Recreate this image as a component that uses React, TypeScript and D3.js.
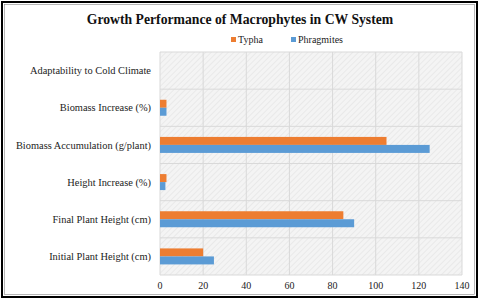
import React from 'react';
import * as d3 from 'd3';

// chart data, bottom category first as in the picture
const categories = [
  'Initial Plant Height (cm)',
  'Final Plant Height (cm)',
  'Height Increase (%)',
  'Biomass Accumulation (g/plant)',
  'Biomass Increase (%)',
  'Adaptability to Cold Climate',
];
const typha = [20, 85, 3, 105, 3, 0];
const phragmites = [25, 90, 2.5, 125, 3, 0];
const xTicks = [0, 20, 40, 60, 80, 100, 120, 140];
const seriesNames = ['Typha', 'Phragmites'];
const seriesColors = ['#ed7d31', '#5b9bd5'];

const width = 480;
const height = 300;
const margin = { top: 52, right: 18, bottom: 25, left: 160 };
const font = "'Times New Roman', Times, serif";

const App = () => {
  const innerW = width - margin.left - margin.right;
  const innerH = height - margin.top - margin.bottom;

  // Get the axis scales.
  const xScale = d3.scaleLinear().domain([0, 140]).range([0, innerW]);
  const yScale = d3
    .scaleBand<string>()
    .domain([...categories].reverse())
    .range([0, innerH]);
  const inner = d3
    .scaleBand<string>()
    .domain(seriesNames)
    .range([0, 16]);

  const band = yScale.bandwidth();
  const values = [typha, phragmites];
  const legendX = [231, 291];

  return (
    <svg
      width={width}
      height={height}
      style={{ position: 'absolute', left: 0, top: 0, fontFamily: font }}
    >
      <defs>
        <pattern
          id="hatch"
          width="4"
          height="4"
          patternUnits="userSpaceOnUse"
          patternTransform="rotate(45)"
        >
          <rect width="4" height="4" fill="#f4f4f4" />
          <line x1="0" y1="0" x2="0" y2="4" stroke="#e2e2e2" strokeWidth="1.2" />
        </pattern>
      </defs>
      <rect x={0} y={0} width={width} height={height} fill="#fff" />
      <rect x={2} y={2} width={475} height={295} fill="none" stroke="#000" strokeWidth={2} />
      <rect x={4.5} y={4.5} width={470} height={290} fill="none" stroke="#888" strokeWidth={0.6} />

      <text
        x={240}
        y={24}
        textAnchor="middle"
        fontSize={13.7}
        fontWeight="bold"
        fill="#111"
      >
        Growth Performance of Macrophytes in CW System
      </text>

      {/* legend */}
      {seriesNames.map((name, i) => (
        <g key={name} transform={`translate(${legendX[i]},43)`}>
          <rect x={0} y={-6} width={5} height={5} fill={seriesColors[i]} />
          <text x={7} y={0} fontSize={10} fill="#222">
            {name}
          </text>
        </g>
      ))}

      <g transform={`translate(${margin.left},${margin.top})`}>
        <rect width={innerW} height={innerH} fill="url(#hatch)" />
        {xTicks.map((t) => (
          <line
            key={t}
            x1={xScale(t)}
            x2={xScale(t)}
            y1={0}
            y2={innerH}
            stroke="#d9d9d9"
            strokeWidth={1}
          />
        ))}
        {d3.range(categories.length + 1).map((i) => (
          <line
            key={i}
            x1={0}
            x2={innerW}
            y1={i * band}
            y2={i * band}
            stroke="#d9d9d9"
            strokeWidth={1}
          />
        ))}
        {categories.map((c, ci) =>
          values.map((vals, si) => (
            <rect
              key={c + si}
              x={xScale(0)}
              y={(yScale(c) ?? 0) + (band - 16) / 2 + (inner(seriesNames[si]) ?? 0)}
              width={xScale(vals[ci]) - xScale(0)}
              height={inner.bandwidth()}
              fill={seriesColors[si]}
            />
          ))
        )}
        {categories.map((c) => (
          <text
            key={c}
            x={-9}
            y={(yScale(c) ?? 0) + band / 2}
            dy="0.35em"
            textAnchor="end"
            fontSize={10.4}
            fill="#222"
          >
            {c}
          </text>
        ))}
        {xTicks.map((t) => (
          <text
            key={t}
            x={xScale(t)}
            y={innerH + 14}
            textAnchor="middle"
            fontSize={10}
            fill="#222"
          >
            {t}
          </text>
        ))}
      </g>
    </svg>
  );
};

export default App;
